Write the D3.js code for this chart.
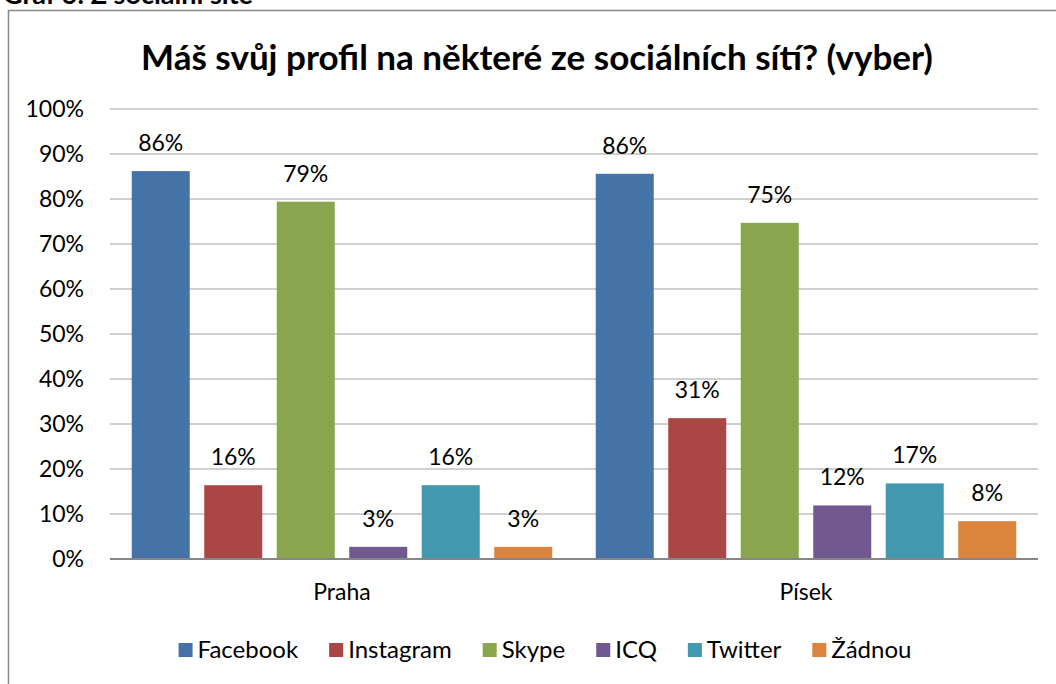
<!DOCTYPE html>
<html>
<head>
<meta charset="utf-8">
<script src="https://cdn.jsdelivr.net/npm/d3@7"></script>
<style>
    body { margin: 0; background: #fff; }
    svg { display: block; font-family: Lato, "Open Sans", sans-serif; }
</style>
</head>
<body>
<div id="chart-holder"></div>
<script>
// data
var groups = ['Praha', 'Písek'];
var series = ['Facebook', 'Instagram', 'Skype', 'ICQ', 'Twitter', 'Žádnou'];
var colors = ['#4572a7', '#aa4643', '#89a54e', '#71588f', '#4198af', '#db843d'];
var prahaValues = [86.2, 16.4, 79.4, 2.7, 16.4, 2.7];
var pisekValues = [85.6, 31.3, 74.7, 11.9, 16.8, 8.4];
var yTicks = [0, 10, 20, 30, 40, 50, 60, 70, 80, 90, 100];
var titleText = 'Máš svůj profil na některé ze sociálních sítí? (vyber)';
var captionText = 'Graf 6: Z sociální sítě';

function buildChart(containerId) {
    // size globals
    var width = 1056;
    var height = 684;

    var margin = {
        top: 109,
        right: 18,
        bottom: 125,
        left: 110
    };

    var innerWidth = width - margin.left - margin.right;
    var innerHeight = height - margin.top - margin.bottom;

    var svg = d3
        .select(containerId)
        .append('svg')
        .attr('width', width)
        .attr('height', height);

    // caption above the chart box, cut off by the page top like in the source
    svg
        .append('text')
        .attr('x', 3)
        .attr('y', 4)
        .style('font-size', '27px')
        .style('font-weight', 'bold')
        .attr('fill', '#000')
        .text(captionText);

    // chart box
    svg
        .append('rect')
        .attr('x', 8.5)
        .attr('y', 10.5)
        .attr('width', 1080)
        .attr('height', 700)
        .attr('fill', '#fff')
        .attr('stroke', '#888')
        .attr('stroke-width', 1.5);

    // title
    svg
        .append('text')
        .attr('x', 537)
        .attr('y', 70)
        .attr('text-anchor', 'middle')
        .style('font-size', '35px')
        .style('font-weight', 'bold')
        .attr('fill', '#000')
        .text(titleText);

    var g = svg
        .append('g')
        .attr('transform', 'translate(' + margin.left + ',' + margin.top + ')');

    var rows = [];
    groups.forEach(function(grp, gi) {
        var vals = gi === 0 ? prahaValues : pisekValues;
        series.forEach(function(s, si) {
            rows.push({ group: grp, series: s, value: vals[si], color: colors[si] });
        });
    });

    // scales
    var x0 = d3
        .scaleBand()
        .domain(groups)
        .range([0, innerWidth])
        .padding(0);

    var x1 = d3
        .scaleBand()
        .domain(series)
        .range([0, x0.bandwidth()])
        .paddingInner(0.2)
        .paddingOuter(0.3);

    var y = d3
        .scaleLinear()
        .domain([0, 100])
        .range([innerHeight, 0]);

    // gridlines
    g
        .append('g')
        .attr('class', 'grid')
        .selectAll('line')
        .data(yTicks.slice(1))
        .enter()
        .append('line')
        .attr('x1', 0)
        .attr('x2', innerWidth)
        .attr('y1', function(d) { return y(d); })
        .attr('y2', function(d) { return y(d); })
        .attr('stroke', '#c0c0c0')
        .attr('stroke-width', 1.5);

    // y axis labels
    var yAxis = d3
        .axisLeft(y)
        .tickValues(yTicks)
        .tickSize(0)
        .tickPadding(26)
        .tickFormat(function(d) { return d + '%'; });

    g
        .append('g')
        .attr('class', 'y-axis')
        .call(yAxis)
        .call(function(a) { a.select('.domain').remove(); })
        .selectAll('text')
        .style('font-size', '23px')
        .style('font-family', 'Lato, sans-serif')
        .attr('fill', '#000');

    // bars
    var groupG = g
        .selectAll('.group')
        .data(groups)
        .enter()
        .append('g')
        .attr('class', 'group')
        .attr('transform', function(d) { return 'translate(' + x0(d) + ',0)'; });

    groupG
        .selectAll('.bar')
        .data(function(grp) {
            return rows.filter(function(r) { return r.group === grp; });
        })
        .enter()
        .append('rect')
        .attr('class', 'bar')
        .attr('x', function(d) { return x1(d.series); })
        .attr('y', function(d) { return y(d.value); })
        .attr('width', x1.bandwidth())
        .attr('height', function(d) { return innerHeight - y(d.value); })
        .attr('fill', function(d) { return d.color; });

    // value labels
    groupG
        .selectAll('.value-label')
        .data(function(grp) {
            return rows.filter(function(r) { return r.group === grp; });
        })
        .enter()
        .append('text')
        .attr('class', 'value-label')
        .attr('x', function(d) { return x1(d.series) + x1.bandwidth() / 2; })
        .attr('y', function(d) { return y(d.value) - 20; })
        .attr('text-anchor', 'middle')
        .style('font-size', '23px')
        .attr('fill', '#000')
        .text(function(d) { return Math.round(d.value) + '%'; });

    // x axis line
    g
        .append('line')
        .attr('x1', 0)
        .attr('x2', innerWidth)
        .attr('y1', innerHeight)
        .attr('y2', innerHeight)
        .attr('stroke', '#868686')
        .attr('stroke-width', 2);

    // category labels
    var xAxis = d3.axisBottom(x0).tickSize(0).tickPadding(25);

    g
        .append('g')
        .attr('class', 'x-axis')
        .attr('transform', 'translate(0,' + innerHeight + ')')
        .call(xAxis)
        .call(function(a) { a.select('.domain').remove(); })
        .selectAll('text')
        .style('font-size', '23px')
        .style('font-family', 'Lato, sans-serif')
        .attr('fill', '#000');

    // legend
    var legend = svg.append('g').attr('class', 'legend');
    var items = legend
        .selectAll('.item')
        .data(series)
        .enter()
        .append('g')
        .attr('class', 'item');

    items
        .append('rect')
        .attr('width', 14)
        .attr('height', 14)
        .attr('y', -7)
        .attr('fill', function(d, i) { return colors[i]; });

    items
        .append('text')
        .attr('x', 19)
        .attr('dy', '0.35em')
        .style('font-size', '24px')
        .attr('fill', '#000')
        .text(function(d) { return d; });

    var gap = 31;
    var widths = [];
    items.each(function() {
        widths.push(19 + d3.select(this).select('text').node().getComputedTextLength());
    });
    var total = d3.sum(widths) + gap * (widths.length - 1);
    var cx = 545 - total / 2;
    items.attr('transform', function(d, i) {
        var pos = cx;
        cx += widths[i] + gap;
        return 'translate(' + pos + ',650)';
    });
}

buildChart('#chart-holder');
</script>
</body>
</html>
